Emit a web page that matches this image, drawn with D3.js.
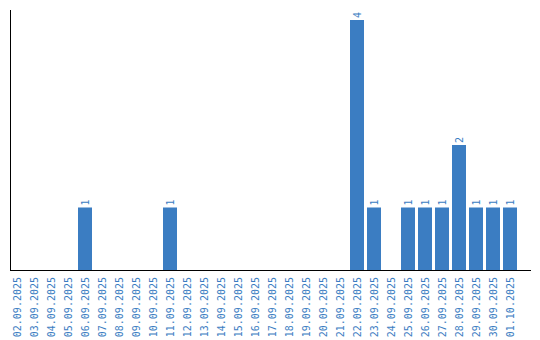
<!DOCTYPE html>
<html>
<head>
<meta charset="utf-8">
<script src="https://cdn.jsdelivr.net/npm/d3@7"></script>
<style>
  body { margin: 0; background: #fff; }
</style>
</head>
<body>
<div id="chart"></div>
<script>
// Daily counts, 02.09.2025 - 01.10.2025
const dates = [
    "02.09.2025", "03.09.2025", "04.09.2025", "05.09.2025", "06.09.2025",
    "07.09.2025", "08.09.2025", "09.09.2025", "10.09.2025", "11.09.2025",
    "12.09.2025", "13.09.2025", "14.09.2025", "15.09.2025", "16.09.2025",
    "17.09.2025", "18.09.2025", "19.09.2025", "20.09.2025", "21.09.2025",
    "22.09.2025", "23.09.2025", "24.09.2025", "25.09.2025", "26.09.2025",
    "27.09.2025", "28.09.2025", "29.09.2025", "30.09.2025", "01.10.2025"
];
const counts = [
    0, 0, 0, 0, 1,
    0, 0, 0, 0, 1,
    0, 0, 0, 0, 0,
    0, 0, 0, 0, 0,
    4, 1, 0, 1, 1,
    1, 2, 1, 1, 1
];
const yMax = 4;

const data = dates.map((d, i) => ({ date: d, value: counts[i] }));

const svgWidth = 540, svgHeight = 340;
const barColor = "#3b7dc2";
const font = "'DejaVu Sans Mono', monospace";

const svg = d3.select("#chart")
    .append("svg")
    .attr("width", svgWidth)
    .attr("height", svgHeight);

// X scale: 17px step, 14px bars
const xScale = d3.scaleBand()
    .domain(dates)
    .range([10, 517])
    .paddingInner(3 / 17)
    .paddingOuter(0);

const yScale = d3.scaleLinear()
    .domain([0, yMax])
    .range([270, 20]);

// Bars
svg.selectAll(".bar")
    .data(data.filter(d => d.value > 0))
    .enter()
    .append("rect")
    .attr("class", "bar")
    .attr("x", d => xScale(d.date))
    .attr("y", d => yScale(d.value))
    .attr("width", xScale.bandwidth())
    .attr("height", d => yScale(0) - yScale(d.value))
    .attr("fill", barColor);

// Value labels, rotated
svg.selectAll(".value-label")
    .data(data.filter(d => d.value > 0))
    .enter()
    .append("text")
    .attr("class", "value-label")
    .attr("transform", d => `translate(${xScale(d.date) + xScale.bandwidth() / 2 + 3.5},${yScale(d.value) - 2}) rotate(-90)`)
    .attr("font-size", "10px")
    .attr("font-family", font)
    .attr("fill", barColor)
    .text(d => d.value);

// Axes lines
svg.append("line")
    .attr("x1", 10.5).attr("x2", 10.5)
    .attr("y1", 10).attr("y2", 270)
    .attr("stroke", "#000")
    .attr("stroke-width", 1);

svg.append("line")
    .attr("x1", 10).attr("x2", 531)
    .attr("y1", 270.5).attr("y2", 270.5)
    .attr("stroke", "#000")
    .attr("stroke-width", 1);

// Date labels, rotated
svg.selectAll(".date-label")
    .data(dates)
    .enter()
    .append("text")
    .attr("class", "date-label")
    .attr("transform", d => `translate(${xScale(d) + xScale.bandwidth() / 2 + 3.5},277) rotate(-90)`)
    .attr("text-anchor", "end")
    .attr("font-size", "10px")
    .attr("font-family", font)
    .attr("fill", barColor)
    .text(d => d);
</script>
</body>
</html>
